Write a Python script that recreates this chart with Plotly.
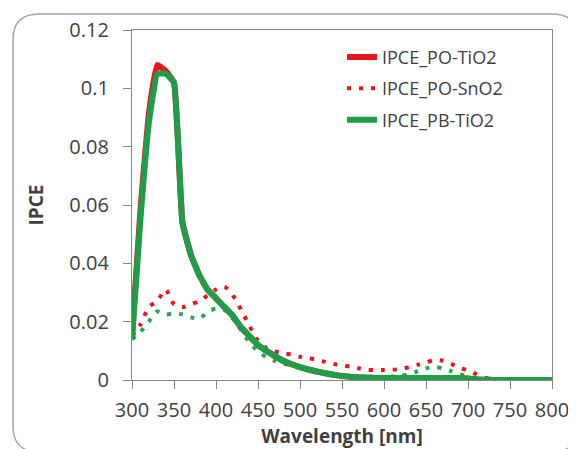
import plotly.graph_objects as go

wavelength = [300, 310, 320, 330, 340, 350, 360, 370, 380, 390,
              400, 410, 420, 430, 440, 450, 460, 470, 480, 490,
              500, 510, 520, 530, 540, 550, 560, 570, 580, 590,
              600, 610, 620, 630, 640, 650, 660, 670, 680, 690,
              700, 710, 720, 730, 740, 750, 760, 770, 780, 790, 800]

ipce_po_tio2 = [0.015, 0.058, 0.091, 0.108, 0.106, 0.102, 0.054, 0.043, 0.036, 0.031,
                0.028, 0.025, 0.022, 0.018, 0.015, 0.012, 0.0100, 0.0082, 0.0066, 0.0054,
                0.0044, 0.0036, 0.0029, 0.0023, 0.0018, 0.0014, 0.0011, 0.0009, 0.0008, 0.0007,
                0.0007, 0.0007, 0.0007, 0.0007, 0.0007, 0.0007, 0.0007, 0.0007, 0.0007, 0.0006,
                0.0005, 0.0002, 0.0001, 0.0, 0.0, 0.0, 0.0, 0.0, 0.0, 0.0, 0.0]

ipce_po_sno2 = [0.015, 0.019, 0.025, 0.027, 0.031, 0.026, 0.025, 0.026, 0.027, 0.029,
                0.031, 0.032, 0.029, 0.024, 0.0185, 0.0135, 0.0110, 0.0098, 0.0092, 0.0087,
                0.0080, 0.0075, 0.0069, 0.0062, 0.0055, 0.0050, 0.0046, 0.0040, 0.0035, 0.0034,
                0.0034, 0.0035, 0.0038, 0.0044, 0.0052, 0.0060, 0.0069, 0.0066, 0.0055, 0.0042,
                0.0032, 0.0020, 0.0008, 0.0002, 0.0, 0.0, 0.0, 0.0, 0.0, 0.0, 0.0]

ipce_pb_tio2 = [0.014, 0.055, 0.088, 0.105, 0.105, 0.102, 0.054, 0.043, 0.036, 0.031,
                0.028, 0.025, 0.022, 0.018, 0.015, 0.012, 0.0100, 0.0082, 0.0066, 0.0054,
                0.0044, 0.0036, 0.0029, 0.0023, 0.0018, 0.0014, 0.0011, 0.0009, 0.0008, 0.0007,
                0.0007, 0.0007, 0.0007, 0.0007, 0.0007, 0.0007, 0.0007, 0.0007, 0.0007, 0.0006,
                0.0005, 0.0002, 0.0001, 0.0, 0.0, 0.0, 0.0, 0.0, 0.0, 0.0, 0.0]

ipce_pb_sno2 = [0.014, 0.0165, 0.020, 0.0235, 0.0225, 0.0228, 0.0225, 0.0215, 0.021, 0.0233,
                0.0245, 0.024, 0.021, 0.017, 0.0128, 0.0098, 0.0078, 0.0066, 0.0057, 0.0048,
                0.0040, 0.0033, 0.0027, 0.0022, 0.0018, 0.0015, 0.0013, 0.0011, 0.0010, 0.0010,
                0.0011, 0.0012, 0.0015, 0.0020, 0.0030, 0.0040, 0.0045, 0.0040, 0.0030, 0.0020,
                0.0012, 0.0006, 0.0002, 0.0, 0.0, 0.0, 0.0, 0.0, 0.0, 0.0, 0.0]

RED = "#e8161c"
GREEN = "#1f9e4a"
GREEN_DOT = "#2aa653"
TEXT = "#404040"
FONT = "Open Sans"

fig = go.Figure()

fig.add_trace(go.Scatter(x=wavelength, y=ipce_po_sno2, name="IPCE_PO-SnO2", mode="lines",
                         legendgroup="b", legendrank=2,
                         line=dict(color=RED, width=4, dash="4px,8px", shape="spline", smoothing=0.7)))
fig.add_trace(go.Scatter(x=wavelength, y=ipce_pb_sno2, name="IPCE_PB-SnO2", mode="lines",
                         showlegend=False, legendgroup="d",
                         line=dict(color=GREEN_DOT, width=4, dash="4px,8px", shape="spline", smoothing=0.7)))
fig.add_trace(go.Scatter(x=wavelength, y=ipce_po_tio2, name="IPCE_PO-TiO2", mode="lines",
                         legendgroup="a", legendrank=1,
                         line=dict(color=RED, width=6, shape="spline", smoothing=0.3)))
fig.add_trace(go.Scatter(x=wavelength, y=ipce_pb_tio2, name="IPCE_PB-TiO2", mode="lines",
                         legendgroup="c", legendrank=3,
                         line=dict(color=GREEN, width=6, shape="spline", smoothing=0.3)))

# the page body adds an 8px offset, so the figure is sized 8px smaller
FW, FH = 568, 441
L, T, W, H = 124, 22, 420, 350
rx, ry = 26 / W, 26 / H
x0, x1 = (5 - L) / W, (570 - L) / W
y0, y1 = (T + H - 444) / H, (T + H - 6) / H
border = (f"M{x0 + rx},{y1} L{x1 - rx},{y1} Q{x1},{y1} {x1},{y1 - ry} "
          f"L{x1},{y0 + ry} Q{x1},{y0} {x1 - rx},{y0} L{x0 + rx},{y0} "
          f"Q{x0},{y0} {x0},{y0 + ry} L{x0},{y1 - ry} Q{x0},{y1} {x0 + rx},{y1} Z")

fig.update_layout(
    width=FW, height=FH,
    margin=dict(l=L, r=FW - L - W, t=T, b=FH - T - H, autoexpand=False),
    paper_bgcolor="white", plot_bgcolor="white",
    font=dict(family=FONT, color=TEXT, size=17),
    showlegend=True,
    legend=dict(x=0.5, y=0.975, xanchor="left", yanchor="top",
                bgcolor="rgba(0,0,0,0)", font=dict(size=18, color=TEXT, family=FONT),
                traceorder="grouped", tracegroupgap=5),
    shapes=[dict(type="path", xref="paper", yref="paper", path=border,
                 line=dict(color="#a6a6a6", width=1.5), layer="below")],
    xaxis=dict(range=[300, 800], dtick=50, tick0=300, showgrid=False, zeroline=False,
               automargin=False,
               showline=True, linecolor="#868686", linewidth=1.3, mirror=True,
               ticks="outside", ticklen=8, tickcolor="#868686", ticklabelstandoff=4,
               tickfont=dict(size=20, color=TEXT, family=FONT),
               title=dict(text="<b>Wavelength [nm]</b>", font=dict(size=19, color=TEXT, family=FONT),
                          standoff=6)),
    yaxis=dict(range=[0, 0.12], dtick=0.02, showgrid=False, zeroline=False,
               automargin=False,
               showline=True, linecolor="#868686", linewidth=1.3, mirror=True,
               ticks="outside", ticklen=8, tickcolor="#868686", ticklabelstandoff=10,
               tickfont=dict(size=20, color=TEXT, family=FONT),
               title=dict(text="<b>IPCE</b>", font=dict(size=19, color=TEXT, family=FONT),
                          standoff=20)),
)

fig.write_html("out.html")
